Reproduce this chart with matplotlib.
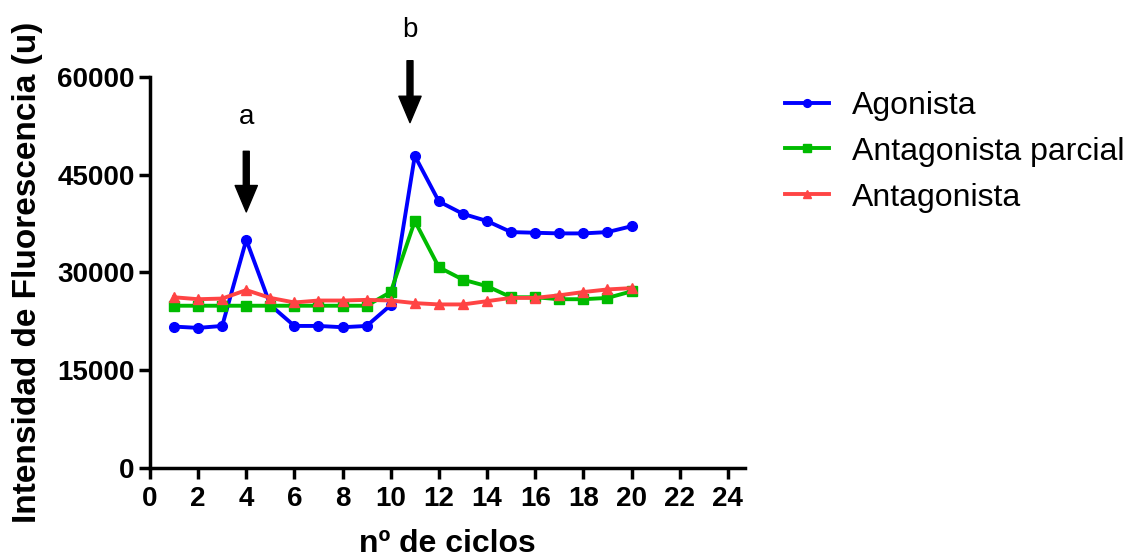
import numpy as np
import matplotlib.pyplot as plt

plt.rcParams['font.family'] = ['Liberation Sans', 'DejaVu Sans']

ciclos = list(range(1, 21))
agonista = [21700, 21500, 21800, 35000, 25000, 21800, 21800, 21600, 21800, 25000,
            47900, 40900, 39000, 37900, 36200, 36100, 36000, 36000, 36200, 37100]
antag_parcial = [24900, 24900, 24900, 24900, 24900, 24900, 24900, 24900, 24900, 27000,
                 37900, 30800, 28900, 27900, 26200, 26200, 25900, 25900, 26100, 27100]
antagonista = [26200, 25900, 26000, 27300, 26100, 25400, 25700, 25700, 25800, 25700,
               25300, 25100, 25100, 25600, 26100, 26100, 26500, 27000, 27400, 27600]

series = [
    ("Agonista", agonista, "#0000ff", "o", 7),
    ("Antagonista parcial", antag_parcial, "#00bb00", "s", 6.5),
    ("Antagonista", antagonista, "#ff4444", "^", 6.5),
]

fig = plt.figure(figsize=(11.3, 5.58), dpi=100)
ax = fig.add_axes([0.1327, 0.1613, 0.659 - 0.1327, 0.862 - 0.1613])

for name, vals, col, mk, ms in series:
    ax.plot(ciclos, vals, color=col, marker=mk, markersize=ms, linewidth=2.8,
            label=name)

ax.set_xlim(0, 24.7)
ax.set_ylim(0, 60000)
ax.set_xticks(np.arange(0, 25, 2))
ax.set_yticks([0, 15000, 30000, 45000, 60000])

for s in ["top", "right"]:
    ax.spines[s].set_visible(False)
for s in ["left", "bottom"]:
    ax.spines[s].set_linewidth(2.5)
ax.tick_params(width=2.5, length=8, labelsize=20)
ax.tick_params(axis="x", pad=5)
ax.tick_params(axis="y", pad=3)
for lab in ax.get_xticklabels() + ax.get_yticklabels():
    lab.set_fontweight("bold")

ax.set_xlabel("nº de ciclos", fontsize=23, fontweight="bold", labelpad=12)
ax.set_ylabel("Intensidad de Fluorescencia (u)", fontsize=24, fontweight="bold",
              labelpad=10)

# arrows
ax.annotate("", xy=(4, 39300), xytext=(4, 48600),
            arrowprops=dict(facecolor="black", edgecolor="black", width=4.3,
                            headwidth=16, headlength=19), annotation_clip=False)
ax.text(4, 53800, "a", ha="center", va="center", fontsize=20)
ax.annotate("", xy=(10.8, 53000), xytext=(10.8, 62500),
            arrowprops=dict(facecolor="black", edgecolor="black", width=4.3,
                            headwidth=16, headlength=19), annotation_clip=False)
ax.text(10.8, 67200, "b", ha="center", va="center", fontsize=20, clip_on=False)

ax.legend(loc="upper left", bbox_to_anchor=(1.067, 0.965), frameon=False,
          fontsize=23, handlelength=1.4, handletextpad=0.7, labelspacing=0.5,
          borderaxespad=0, borderpad=0, markerscale=0.8)

fig.savefig("out.png", dpi=100)
